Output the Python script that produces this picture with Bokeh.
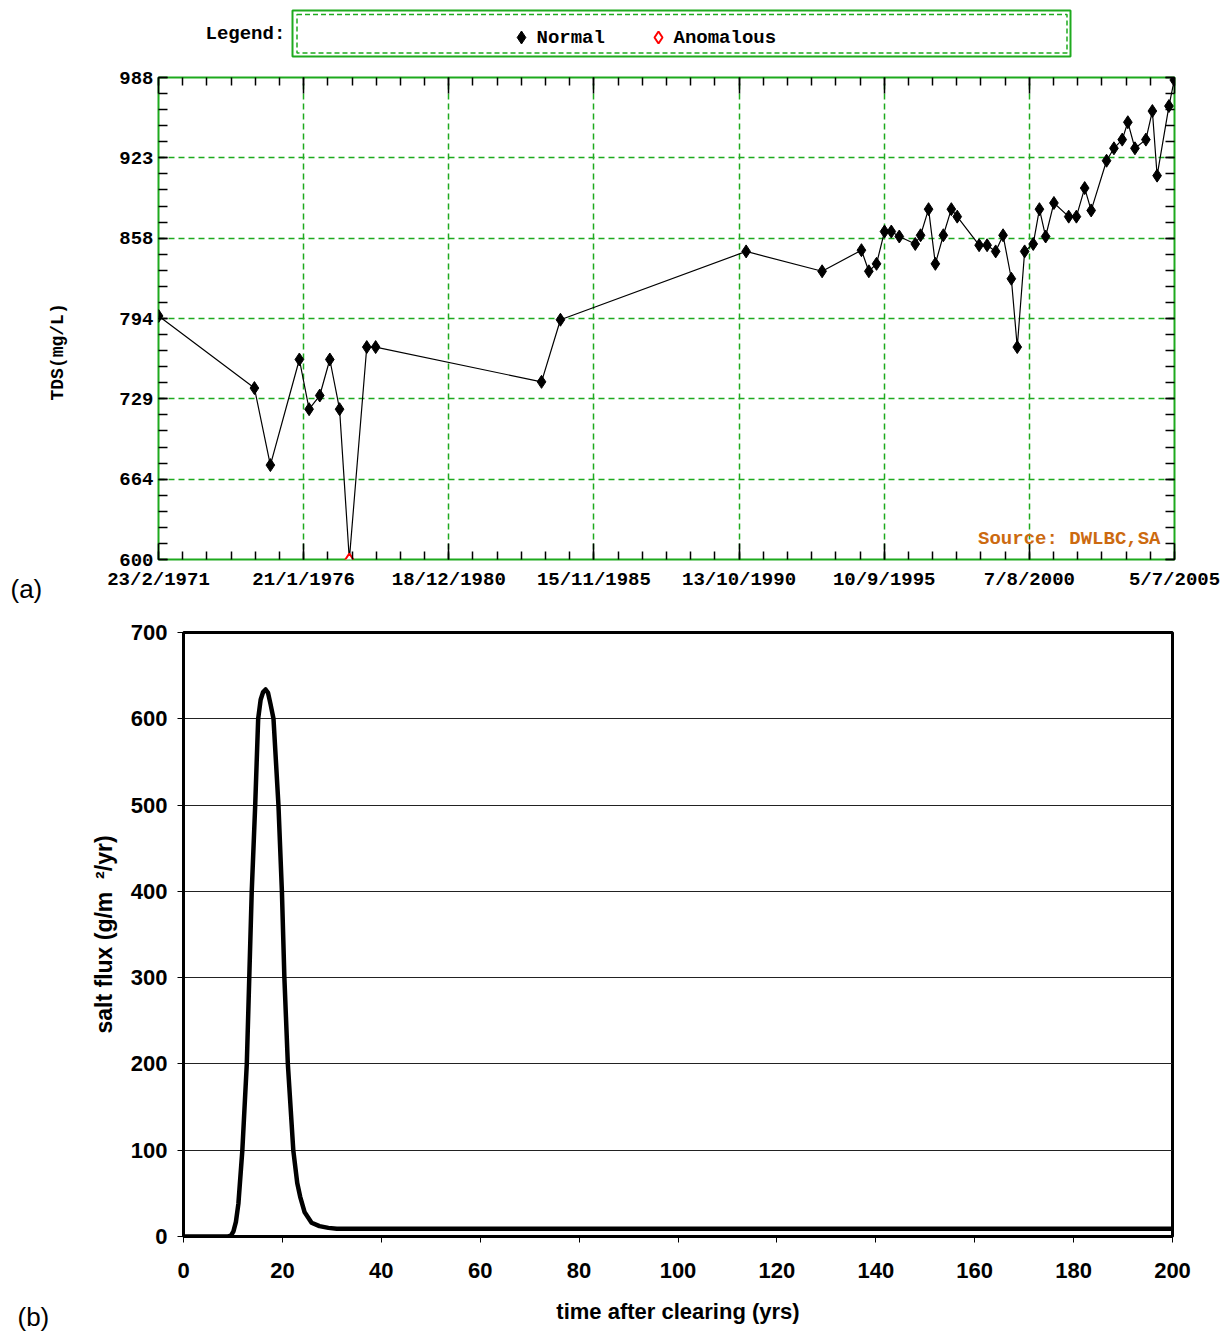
import numpy as np
from bokeh.plotting import figure
from bokeh.layouts import column
from bokeh.models import (Range1d, FixedTicker, Label, LinearAxis, Title,
                          CustomJSTickFormatter)
from bokeh.embed import file_html
from bokeh.resources import INLINE

# ---------------- data: (a) TDS record ----------------
tds_year = [1971.15, 1974.39, 1974.93, 1975.91, 1976.24, 1976.60, 1976.94, 1977.27,
            1977.60, 1978.19, 1978.49, 1984.10, 1984.74, 1991.02, 1993.59, 1994.92,
            1995.17, 1995.43, 1995.70, 1995.93, 1996.20, 1996.74, 1996.92, 1997.19,
            1997.42, 1997.69, 1997.96, 1998.16, 1998.90, 1999.17, 1999.46, 1999.71,
            1999.99, 2000.19, 2000.44, 2000.73, 2000.94, 2001.15, 2001.43, 2001.93,
            2002.19, 2002.47, 2002.69, 2003.21, 2003.46, 2003.74, 2003.93, 2004.17,
            2004.54, 2004.76, 2004.92, 2005.32, 2005.50]
tds_value = [796, 738, 676, 761, 721, 732, 761, 721,
             600, 771, 771, 743, 793, 848, 832, 849,
             832, 838, 864, 864, 860, 854, 861, 882,
             838, 861, 882, 876, 853, 853, 848, 861,
             826, 771, 848, 854, 882, 860, 887, 876,
             876, 899, 881, 921, 931, 938, 952, 931,
             938, 961, 909, 965, 986]
tds_status = ["Normal"] * 8 + ["Anomalous"] + ["Normal"] * 44

x_tick_labels = ["23/2/1971", "21/1/1976", "18/12/1980", "15/11/1985",
                 "13/10/1990", "10/9/1995", "7/8/2000", "5/7/2005"]
x_start, x_end = 1971.146, 2005.508
y_tick_labels = ["600", "664", "729", "794", "858", "923", "988"]
y_min, y_max = 600, 988
legend_labels = ["Normal", "Anomalous"]

# ---------------- data: (b) salt flux ----------------
flux_t = [0, 5, 9, 9.6, 10.1, 10.6, 11.1, 11.9, 12.8, 13.3, 13.8, 14.5, 15.1, 15.6,
          16.1, 16.6, 17.1, 17.6, 18.2, 19.2, 19.9, 20.4, 21.1, 22.2, 23.0, 23.6,
          24.5, 25.9, 27.5, 29.3, 31, 40, 60, 100, 150, 200]
flux_v = [0, 0, 0, 1, 6, 17, 38, 100, 200, 300, 400, 500, 600, 622,
          631, 634, 630, 617, 600, 500, 400, 300, 200, 100, 62, 46,
          28, 16, 12, 10, 9, 9, 9, 9, 9, 9]

W = 1222
GREEN = "#1eaa1e"
MONO = "Liberation Mono"
SANS = "Liberation Sans"
MONO_SIZE = "19px"

# ---------------- legend strip ----------------
p0 = figure(width=W, height=60, x_range=Range1d(0, W), y_range=Range1d(60, 0),
            output_backend="svg", toolbar_location=None,
            x_axis_location=None, y_axis_location=None, min_border=0)
p0.frame_align = False
p0.outline_line_color = None
p0.xgrid.visible = False
p0.ygrid.visible = False
p0.quad(left=[292], right=[1070], top=[10], bottom=[56], fill_color=None,
        line_color=GREEN, line_width=2)
p0.quad(left=[296.5], right=[1066.5], top=[14], bottom=[52.5], fill_color=None,
        line_color=GREEN, line_width=1.5, line_dash="5 3")
p0.add_layout(Label(x=205, y=33, text="Legend:", text_font=MONO, text_font_style="bold",
                    text_font_size=MONO_SIZE, text_baseline="middle", text_color="black"))
p0.scatter([521], [37], marker="diamond", size=13, color="black")
p0.scatter([658], [37], marker="diamond", size=12, fill_color="white",
           line_color="red", line_width=2)
for lx, lab in zip([536, 673], legend_labels):
    p0.add_layout(Label(x=lx, y=37, text=lab, text_font=MONO, text_font_style="bold",
                        text_font_size=MONO_SIZE, text_baseline="middle",
                        text_color="black"))

# ---------------- chart (a) ----------------
p1 = figure(width=W, height=550, x_range=Range1d(x_start, x_end),
            y_range=Range1d(y_min, y_max), output_backend="svg", toolbar_location=None,
            min_border_left=158, min_border_right=48, min_border_top=17,
            min_border_bottom=51)
p1.frame_align = False
p1.outline_line_color = GREEN
p1.outline_line_width = 2

x_major = [float(v) for v in np.linspace(x_start, x_end, len(x_tick_labels))]
x_minor = [float(v) for v in np.linspace(x_start, x_end, (len(x_tick_labels) - 1) * 6 + 1)]
y_major = [float(v) for v in np.linspace(y_min, y_max, len(y_tick_labels))]
y_minor = [float(v) for v in np.linspace(y_min, y_max, (len(y_tick_labels) - 1) * 5 + 1)]

xt = FixedTicker(ticks=x_major, minor_ticks=x_minor)
yt = FixedTicker(ticks=y_major, minor_ticks=y_minor)

blank = CustomJSTickFormatter(code="return ''")


def style_axis(ax, major_len, minor_len):
    ax.axis_line_color = None
    ax.major_tick_in = major_len
    ax.major_tick_out = 0
    ax.minor_tick_in = minor_len
    ax.minor_tick_out = 0
    ax.major_tick_line_color = "black"
    ax.minor_tick_line_color = "black"
    ax.major_tick_line_width = 1.5
    ax.minor_tick_line_width = 1.5
    ax.major_label_text_font = MONO
    ax.major_label_text_font_style = "bold"
    ax.major_label_text_font_size = MONO_SIZE
    ax.major_label_text_color = "black"


xa = p1.xaxis[0]
xa.ticker = xt
xa.major_label_overrides = dict(zip(x_major, x_tick_labels))
style_axis(xa, 16, 8)
xa.major_label_standoff = 9

ya = p1.yaxis[0]
ya.ticker = yt
ya.major_label_overrides = dict(zip(y_major, y_tick_labels))
style_axis(ya, 9, 9)
ya.major_label_standoff = 5

top_ax = LinearAxis(ticker=xt, formatter=blank)
style_axis(top_ax, 16, 8)
top_ax.major_label_standoff = 0
top_ax.major_label_text_font_size = "1px"
p1.add_layout(top_ax, "above")

right_ax = LinearAxis(ticker=yt, formatter=blank)
style_axis(right_ax, 9, 9)
right_ax.major_label_standoff = 0
right_ax.major_label_text_font_size = "1px"
p1.add_layout(right_ax, "right")

# y-axis title, placed a little below the frame's centre as in the original
p1.add_layout(Title(text="TDS(mg/L)", align="left", offset=159, standoff=94,
                    vertical_align="top", text_font=MONO, text_font_style="bold",
                    text_font_size="18px", text_color="black"), "left")

for g in (p1.xgrid[0], p1.ygrid[0]):
    g.grid_line_color = GREEN
    g.grid_line_dash = "6 4"
    g.grid_line_width = 1.5

p1.line(tds_year, tds_value, line_color="black", line_width=1.2)
status = np.array(tds_status)
yrs = np.array(tds_year)
vals = np.array(tds_value)
norm = status == "Normal"
p1.scatter(yrs[norm], vals[norm], marker="diamond", size=13, color="black")
p1.scatter(yrs[~norm], vals[~norm], marker="diamond", size=12, fill_color="white",
           line_color="red", line_width=2)

p1.add_layout(Label(x=1002, y=21, x_units="screen", y_units="screen",
                    text="Source: DWLBC,SA", text_font=MONO, text_font_style="bold",
                    text_font_size=MONO_SIZE, text_color="#cc6a10", text_align="right",
                    text_baseline="middle"))
p1.add_layout(Title(text="(a)", align="left", offset=-148, standoff=-40,
                    vertical_align="top", text_font=SANS, text_font_size="26px",
                    text_font_style="normal", text_color="black"), "below")

# ---------------- chart (b) ----------------
p2 = figure(width=W, height=723, x_range=Range1d(0, 200), y_range=Range1d(0, 700),
            output_backend="svg", toolbar_location=None,
            min_border_left=183, min_border_right=50, min_border_top=22,
            min_border_bottom=97)
p2.frame_align = False
p2.outline_line_color = "black"
p2.outline_line_width = 3
p2.xgrid.visible = False
p2.ygrid[0].grid_line_color = "#222222"
p2.ygrid[0].grid_line_width = 1

bx = p2.xaxis[0]
bx.ticker = FixedTicker(ticks=list(range(0, 201, 20)))
by = p2.yaxis[0]
by.ticker = FixedTicker(ticks=list(range(0, 701, 100)))
for ax in (bx, by):
    ax.axis_line_color = "black"
    ax.axis_line_width = 3
    ax.major_tick_out = 6
    ax.major_tick_in = 0
    ax.minor_tick_out = 0
    ax.minor_tick_in = 0
    ax.major_tick_line_color = "black"
    ax.major_tick_line_width = 1
    ax.major_label_text_font = SANS
    ax.major_label_text_font_style = "bold"
    ax.major_label_text_font_size = "22px"
    ax.major_label_text_color = "black"
    ax.axis_label_text_font = SANS
    ax.axis_label_text_font_style = "bold"
    ax.axis_label_text_font_size = "22px"
    ax.axis_label_text_color = "black"
bx.major_label_standoff = 20
bx.axis_label = "time after clearing (yrs)"
bx.axis_label_standoff = 18
by.major_label_standoff = 10
by.axis_label = "salt flux (g/m \u00a0\u00b2/yr)"
by.axis_label_text_font_size = "23px"
by.axis_label_standoff = 11

p2.line(flux_t, flux_v, line_color="black", line_width=4.5, line_join="round")

p2.add_layout(Title(text="(b)", align="left", offset=-166, standoff=-50,
                    vertical_align="top", text_font=SANS, text_font_size="26px",
                    text_font_style="normal", text_color="black"), "below")

layout = column(p0, p1, p2, spacing=0)
open("out.html", "w").write(file_html(layout, INLINE))
